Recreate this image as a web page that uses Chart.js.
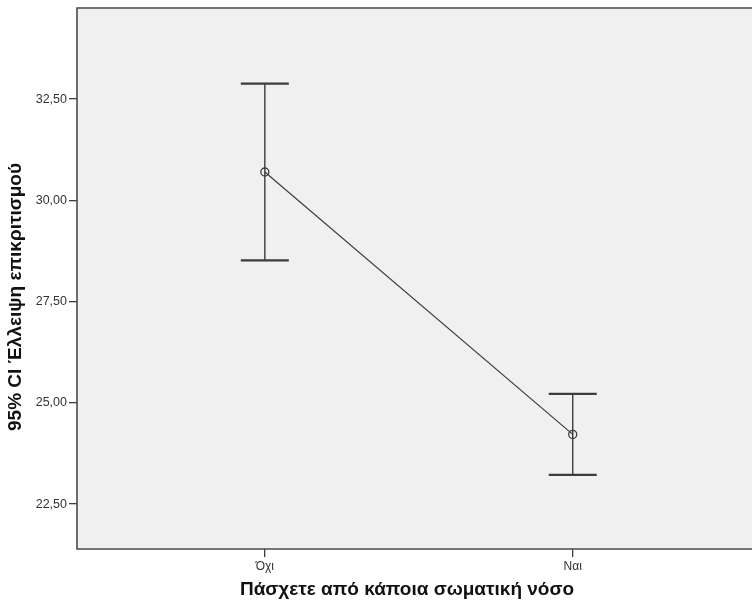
<!DOCTYPE html>
<html>
<head>
<meta charset="utf-8">
<script src="https://cdn.jsdelivr.net/npm/chart.js@4/dist/chart.umd.min.js"></script>
<style>
  html, body { margin: 0; padding: 0; background: #ffffff; overflow: hidden; }
  #c { display: block; }
</style>
</head>
<body>
<canvas id="c" width="752" height="612"></canvas>
<script>
// Group labels and 95% confidence intervals of the mean
const categories = ['Όχι', 'Ναι'];
const means = [30.70, 24.22];
const ciLower = [28.52, 23.22];
const ciUpper = [32.88, 25.22];
const yTickValues = [22.5, 25.0, 27.5, 30.0, 32.5];
const yTitle = '95% CI Έλλειψη επικριτισμού';
const xTitle = 'Πάσχετε από κάποια σωματική νόσο';

const INK = '#3c3c3c';
const FONT = "'Liberation Sans', Arial, sans-serif";

const points = categories.map((c, i) => ({ x: i, y: means[i] }));

// Grey plot background and the dark frame (left, top, bottom)
const framePlugin = {
  id: 'frame',
  beforeDraw(chart) {
    const a = chart.chartArea, ctx = chart.ctx;
    ctx.save();
    ctx.fillStyle = '#f0f0f0';
    ctx.fillRect(a.left, a.top, chart.width - a.left, a.bottom - a.top);
    ctx.restore();
  },
  afterDraw(chart) {
    const a = chart.chartArea, ctx = chart.ctx;
    ctx.save();
    ctx.strokeStyle = '#4a4a4a';
    ctx.lineWidth = 1.6;
    ctx.beginPath();
    ctx.moveTo(chart.width + 2, a.top);
    ctx.lineTo(a.left, a.top);
    ctx.lineTo(a.left, a.bottom);
    ctx.lineTo(chart.width + 2, a.bottom);
    ctx.stroke();

    // axis titles
    ctx.fillStyle = '#111111';
    ctx.font = 'bold 19px ' + FONT;
    ctx.textAlign = 'center';
    ctx.textBaseline = 'middle';
    ctx.fillText(xTitle, 407, 590);
    ctx.translate(16, 297);
    ctx.rotate(-Math.PI / 2);
    ctx.fillText(yTitle, 0, 0);
    ctx.restore();
  }
};

// Whiskers with end caps, drawn from the interval arrays via the scales
const errorBarPlugin = {
  id: 'errorBars',
  beforeDatasetsDraw(chart) {
    const xs = chart.scales.x, ys = chart.scales.y, ctx = chart.ctx;
    ctx.save();
    ctx.strokeStyle = INK;
    categories.forEach((c, i) => {
      const px = xs.getPixelForValue(i);
      const top = ys.getPixelForValue(ciUpper[i]);
      const bot = ys.getPixelForValue(ciLower[i]);
      ctx.lineWidth = 1.4;
      ctx.beginPath();
      ctx.moveTo(px, top);
      ctx.lineTo(px, bot);
      ctx.stroke();
      ctx.lineWidth = 2.2;
      ctx.beginPath();
      ctx.moveTo(px - 24, top);
      ctx.lineTo(px + 24, top);
      ctx.moveTo(px - 24, bot);
      ctx.lineTo(px + 24, bot);
      ctx.stroke();
    });
    ctx.restore();
  }
};

new Chart(document.getElementById('c'), {
  type: 'line',
  data: {
    datasets: [{
      data: points,
      borderColor: INK,
      borderWidth: 1.2,
      pointRadius: 4,
      pointBorderWidth: 1.3,
      pointBorderColor: INK,
      pointBackgroundColor: 'rgba(0,0,0,0)',
      tension: 0,
      fill: false
    }]
  },
  options: {
    responsive: false,
    devicePixelRatio: 1,
    animation: false,
    events: [],
    layout: { padding: { top: 8, right: 0, left: 0, bottom: 0 } },
    plugins: { legend: { display: false }, tooltip: { enabled: false } },
    scales: {
      x: {
        type: 'linear',
        min: -0.61,
        max: 1.565,
        afterBuildTicks(scale) { scale.ticks = categories.map((c, i) => ({ value: i })); },
        afterFit(scale) { scale.height = 63; scale.paddingLeft = 0; scale.paddingRight = 0; },
        border: { display: false },
        grid: { drawOnChartArea: false, drawTicks: true, tickLength: 8, color: INK, lineWidth: 1.3 },
        ticks: {
          padding: 2,
          color: '#333333',
          font: { family: FONT, size: 12 },
          maxRotation: 0,
          callback: (v) => categories[v] !== undefined ? categories[v] : ''
        }
      },
      y: {
        type: 'linear',
        min: 21.39,
        max: 34.75,
        afterBuildTicks(scale) { scale.ticks = yTickValues.map(v => ({ value: v })); },
        afterFit(scale) { scale.width = 77; scale.paddingTop = 0; scale.paddingBottom = 0; },
        border: { display: false },
        grid: { drawOnChartArea: false, drawTicks: true, tickLength: 8, color: INK, lineWidth: 1.3 },
        ticks: {
          padding: 2,
          color: '#333333',
          font: { family: FONT, size: 12.5 },
          callback: (v) => v.toFixed(2).replace('.', ',')
        }
      }
    }
  },
  plugins: [framePlugin, errorBarPlugin]
});
</script>
</body>
</html>
